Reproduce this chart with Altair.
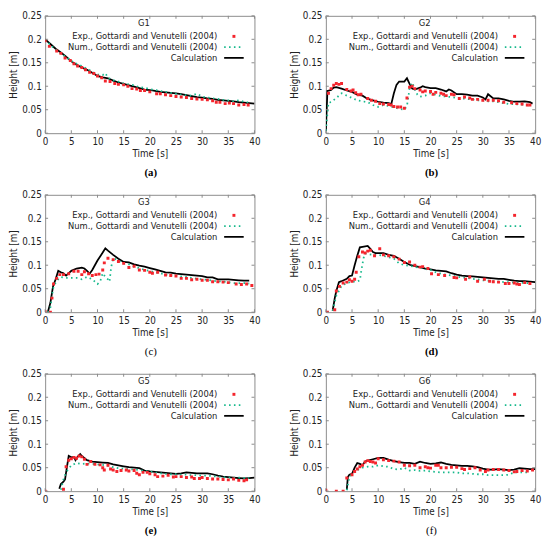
import altair as alt
import pandas as pd

# ---------------- data ----------------
G1_exp_t = [0, 0.8, 2.2, 3, 3.8, 4.8, 5.5, 6.2, 7, 7.7, 8.5, 9.3, 10, 10.8, 11.5, 12.4, 13.3, 14, 15, 15.8, 16.6, 17.5, 18.2, 19, 20, 21.3, 22, 23, 24, 25, 26, 27, 28, 29, 30, 31, 32, 32.7, 33.4, 34.4, 35.2, 36, 37, 38, 38.8]
G1_exp_h = [0.197, 0.185, 0.175, 0.170, 0.160, 0.155, 0.148, 0.143, 0.140, 0.135, 0.130, 0.127, 0.122, 0.118, 0.111, 0.110, 0.106, 0.104, 0.103, 0.100, 0.095, 0.094, 0.091, 0.091, 0.088, 0.084, 0.084, 0.082, 0.080, 0.078, 0.077, 0.076, 0.074, 0.073, 0.072, 0.071, 0.069, 0.066, 0.066, 0.063, 0.064, 0.063, 0.060, 0.061, 0.060]
G1_num_t = [0, 1, 2, 3, 4, 5, 6, 7, 8, 9, 10, 11, 11.5, 12, 13, 14, 15, 16, 17, 18, 19, 20, 22, 24, 26, 28, 29, 30, 31, 32, 33, 34, 35, 36, 37, 38, 39]
G1_num_h = [0.200, 0.188, 0.178, 0.170, 0.162, 0.154, 0.148, 0.143, 0.137, 0.131, 0.125, 0.124, 0.128, 0.118, 0.113, 0.110, 0.106, 0.104, 0.102, 0.098, 0.097, 0.094, 0.090, 0.086, 0.082, 0.080, 0.084, 0.078, 0.076, 0.074, 0.073, 0.071, 0.070, 0.068, 0.070, 0.067, 0.065]
G1_calc_t = [0, 1, 2, 3, 4, 5, 6, 7, 8, 9, 10, 11, 12, 13, 14, 15, 16, 17, 18, 19, 20, 21, 22, 23, 24, 25, 26, 27, 28, 29, 30, 31, 32, 33, 34, 35, 36, 37, 38, 39, 40]
G1_calc_h = [0.200, 0.190, 0.180, 0.172, 0.163, 0.153, 0.146, 0.140, 0.135, 0.129, 0.122, 0.119, 0.117, 0.112, 0.108, 0.105, 0.102, 0.099, 0.096, 0.093, 0.092, 0.090, 0.088, 0.087, 0.086, 0.085, 0.083, 0.081, 0.079, 0.077, 0.076, 0.074, 0.073, 0.071, 0.070, 0.069, 0.068, 0.066, 0.065, 0.064, 0.063]

G2_exp_t = [0.5, 1, 1.5, 2, 2.5, 3, 4, 4.8, 5.2, 5.7, 6.2, 6.7, 8, 8.7, 9.5, 10.3, 11, 12, 12.5, 13, 13.7, 14.3, 15, 15.5, 16, 16.5, 17, 18, 18.5, 19, 20, 20.5, 21, 22, 22.5, 23, 24, 24.5, 25.5, 26.5, 27.5, 28, 29, 30, 31, 32, 33, 34, 35.5, 36.5, 37.5, 38.5, 39]
G2_exp_h = [0.085, 0.095, 0.102, 0.106, 0.104, 0.106, 0.093, 0.090, 0.092, 0.086, 0.082, 0.083, 0.074, 0.070, 0.068, 0.063, 0.062, 0.061, 0.060, 0.057, 0.056, 0.056, 0.053, 0.075, 0.098, 0.100, 0.095, 0.092, 0.088, 0.090, 0.089, 0.083, 0.087, 0.085, 0.083, 0.080, 0.083, 0.082, 0.074, 0.077, 0.075, 0.072, 0.072, 0.070, 0.070, 0.070, 0.069, 0.066, 0.065, 0.063, 0.062, 0.060, 0.060]
G2_num_t = [0, 0.5, 1, 2, 3, 4, 5, 6, 7, 8, 9, 10, 11, 12, 13, 14, 15, 15.5, 16, 16.5, 17, 17.5, 18, 19, 20, 21, 22, 23, 24, 25, 26, 27, 28, 29, 30, 31, 32, 33, 34, 35, 36, 37, 38, 39]
G2_num_h = [0.005, 0.065, 0.066, 0.075, 0.085, 0.080, 0.075, 0.070, 0.068, 0.066, 0.060, 0.056, 0.060, 0.058, 0.055, 0.052, 0.050, 0.058, 0.095, 0.108, 0.095, 0.082, 0.078, 0.080, 0.085, 0.082, 0.079, 0.078, 0.077, 0.075, 0.074, 0.073, 0.072, 0.070, 0.070, 0.068, 0.068, 0.066, 0.064, 0.062, 0.062, 0.061, 0.060, 0.059]
G2_calc_t = [0, 0.3, 1, 1.5, 2, 3, 4, 5, 6, 7, 8, 9, 10, 11, 12, 12.5, 13, 13.5, 14, 15, 15.5, 16, 16.5, 17, 18, 18.5, 19, 20, 21, 22, 23, 23.5, 24, 25, 26, 27, 28, 29, 30, 30.5, 31, 32, 33, 34, 35, 36, 37, 38, 39, 39.5]
G2_calc_h = [0.005, 0.090, 0.092, 0.097, 0.098, 0.095, 0.091, 0.088, 0.082, 0.080, 0.073, 0.070, 0.067, 0.065, 0.064, 0.062, 0.085, 0.103, 0.110, 0.110, 0.117, 0.105, 0.095, 0.093, 0.097, 0.100, 0.098, 0.096, 0.096, 0.093, 0.089, 0.093, 0.091, 0.083, 0.083, 0.082, 0.080, 0.080, 0.076, 0.072, 0.083, 0.074, 0.074, 0.072, 0.069, 0.067, 0.067, 0.068, 0.066, 0.063]

G3_exp_t = [0, 1, 1.3, 1.6, 2.2, 2.8, 3.5, 4.5, 5.5, 6.3, 7, 7.5, 8.3, 9, 9.7, 10.3, 11, 11.3, 12, 13, 14, 15, 16, 17, 18, 19, 20, 20.5, 21.5, 23, 24, 25, 26, 27, 28, 29, 30, 31, 32, 33, 34, 35, 36.5, 37.5, 38.5, 39.5]
G3_exp_h = [0.001, 0.000, 0.030, 0.060, 0.072, 0.080, 0.080, 0.082, 0.087, 0.087, 0.080, 0.086, 0.082, 0.078, 0.080, 0.081, 0.090, 0.105, 0.115, 0.112, 0.108, 0.104, 0.095, 0.098, 0.090, 0.089, 0.085, 0.083, 0.085, 0.079, 0.078, 0.077, 0.072, 0.072, 0.069, 0.070, 0.068, 0.068, 0.065, 0.065, 0.064, 0.063, 0.060, 0.059, 0.060, 0.057]
G3_num_t = [0.5, 1, 1.5, 2, 2.5, 3, 4, 5, 6, 7, 8, 9, 9.5, 10, 10.5, 11, 11.5, 12, 12.3, 12.6, 13, 14, 15, 16, 17, 18, 19, 20, 21, 22, 23, 24, 25, 26, 27, 28, 29, 30, 31, 32, 33, 34, 35, 36, 37, 38, 39]
G3_num_h = [0.000, 0.010, 0.050, 0.063, 0.070, 0.075, 0.073, 0.073, 0.073, 0.070, 0.075, 0.070, 0.065, 0.060, 0.065, 0.083, 0.075, 0.070, 0.065, 0.095, 0.115, 0.110, 0.104, 0.102, 0.097, 0.094, 0.090, 0.088, 0.085, 0.083, 0.080, 0.079, 0.077, 0.076, 0.075, 0.073, 0.071, 0.070, 0.069, 0.067, 0.066, 0.065, 0.064, 0.062, 0.062, 0.062, 0.061]
G3_calc_t = [0.5, 1, 1.5, 2, 2.5, 3, 3.5, 4, 5, 6, 7, 7.5, 8, 8.5, 9, 10, 11, 11.5, 12, 13, 14, 15, 16, 17, 18, 19, 20, 21, 22, 23, 24, 25, 26, 27, 28, 29, 30, 31, 32, 33, 34, 35, 36, 37, 38, 39]
G3_calc_h = [0.000, 0.020, 0.055, 0.070, 0.088, 0.085, 0.083, 0.078, 0.088, 0.093, 0.095, 0.093, 0.088, 0.082, 0.090, 0.110, 0.127, 0.136, 0.131, 0.122, 0.114, 0.107, 0.106, 0.102, 0.099, 0.097, 0.094, 0.091, 0.088, 0.085, 0.084, 0.082, 0.081, 0.080, 0.079, 0.078, 0.077, 0.074, 0.074, 0.070, 0.070, 0.070, 0.069, 0.068, 0.067, 0.067]

G4_exp_t = [0.3, 1.7, 2, 2.6, 3.3, 4, 4.5, 5, 5.5, 5.8, 6.3, 7, 7.5, 8, 8.5, 9.3, 10.3, 11, 12, 13, 14, 15, 16, 17, 18, 18.5, 19.5, 20.2, 21.5, 22.7, 24.5, 25, 26.7, 27.5, 29, 30.3, 31.3, 32, 33, 34.3, 35, 36, 36.5, 37, 38, 39]
G4_exp_h = [0.000, 0.005, 0.045, 0.055, 0.062, 0.064, 0.069, 0.066, 0.070, 0.085, 0.118, 0.128, 0.126, 0.130, 0.132, 0.120, 0.135, 0.122, 0.120, 0.118, 0.113, 0.106, 0.107, 0.100, 0.096, 0.097, 0.093, 0.082, 0.080, 0.078, 0.074, 0.073, 0.070, 0.075, 0.066, 0.070, 0.066, 0.065, 0.064, 0.061, 0.061, 0.062, 0.060, 0.059, 0.063, 0.061]
G4_num_t = [1.3, 2, 3, 4, 5, 6, 6.5, 6.8, 7.2, 7.5, 8, 9, 10, 11, 12, 13, 14, 15, 16, 17, 18, 19, 20, 21, 22, 23, 24, 25, 26, 27, 28, 29, 30, 31, 32, 33, 34, 35, 36, 37, 38, 39]
G4_num_h = [0.003, 0.035, 0.056, 0.062, 0.065, 0.065, 0.068, 0.090, 0.115, 0.125, 0.124, 0.122, 0.122, 0.120, 0.117, 0.114, 0.104, 0.100, 0.099, 0.096, 0.095, 0.092, 0.090, 0.085, 0.082, 0.080, 0.078, 0.076, 0.074, 0.073, 0.071, 0.070, 0.068, 0.067, 0.066, 0.065, 0.064, 0.064, 0.063, 0.063, 0.062, 0.062]
G4_calc_t = [1.3, 1.7, 2, 2.5, 3, 4, 4.5, 5, 5.5, 6, 6.5, 7, 8, 8.5, 9, 9.5, 10, 11, 12, 13, 14, 15, 16, 17, 18, 19, 20, 21, 22, 23, 24, 25, 26, 27, 28, 29, 30, 31, 32, 33, 34, 35, 36, 37, 38, 39, 40]
G4_calc_h = [0.003, 0.030, 0.045, 0.064, 0.066, 0.071, 0.077, 0.078, 0.100, 0.120, 0.138, 0.139, 0.141, 0.135, 0.128, 0.126, 0.126, 0.126, 0.122, 0.120, 0.114, 0.107, 0.101, 0.098, 0.096, 0.093, 0.091, 0.089, 0.088, 0.087, 0.083, 0.080, 0.078, 0.077, 0.076, 0.075, 0.074, 0.073, 0.072, 0.071, 0.071, 0.069, 0.067, 0.066, 0.066, 0.065, 0.064]

G5_exp_t = [0, 3.5, 4, 4.5, 5, 5.5, 6, 6.5, 7, 7.5, 8, 8.7, 9.5, 10.5, 11, 11.3, 12, 12.5, 13, 13.7, 14.5, 15.5, 16, 17, 17.5, 18, 18.7, 19.5, 20, 21, 21.5, 22.5, 23.5, 24.5, 25, 26, 27, 28, 28.5, 29.5, 30, 31, 32, 33, 34, 35, 36, 37, 38, 38.5]
G5_exp_h = [0.000, 0.004, 0.052, 0.066, 0.069, 0.072, 0.070, 0.075, 0.073, 0.068, 0.057, 0.063, 0.057, 0.056, 0.050, 0.045, 0.055, 0.047, 0.045, 0.042, 0.044, 0.045, 0.043, 0.044, 0.038, 0.035, 0.040, 0.040, 0.037, 0.035, 0.031, 0.032, 0.034, 0.030, 0.031, 0.031, 0.029, 0.030, 0.027, 0.027, 0.029, 0.027, 0.026, 0.026, 0.025, 0.024, 0.026, 0.023, 0.022, 0.024]
G5_num_t = [3, 3.5, 4, 5, 6, 7, 8, 9, 10, 11, 12, 13, 14, 15, 16, 17, 18, 19, 20, 21, 22, 23, 24, 25, 26, 27, 28, 29, 30, 31, 32, 33, 34, 35, 36, 37, 38, 39]
G5_num_h = [0.003, 0.025, 0.040, 0.055, 0.060, 0.058, 0.059, 0.058, 0.057, 0.056, 0.054, 0.051, 0.049, 0.048, 0.047, 0.046, 0.045, 0.043, 0.042, 0.040, 0.038, 0.037, 0.036, 0.036, 0.035, 0.035, 0.034, 0.034, 0.033, 0.033, 0.032, 0.031, 0.030, 0.029, 0.029, 0.029, 0.028, 0.028]
G5_calc_t = [2.7, 3, 3.5, 3.8, 4, 4.5, 5, 5.5, 5.8, 6.2, 6.7, 7, 8, 9, 10, 11, 12, 13, 14, 15, 16, 17, 18, 19, 20, 21, 22, 23, 24, 25, 26, 27, 28, 29, 30, 31, 32, 33, 34, 35, 36, 37, 38, 39, 40]
G5_calc_h = [0.005, 0.015, 0.020, 0.025, 0.040, 0.075, 0.072, 0.073, 0.066, 0.073, 0.079, 0.075, 0.066, 0.063, 0.062, 0.061, 0.060, 0.057, 0.055, 0.053, 0.051, 0.050, 0.049, 0.044, 0.042, 0.041, 0.040, 0.039, 0.038, 0.037, 0.038, 0.040, 0.039, 0.038, 0.038, 0.038, 0.036, 0.033, 0.031, 0.030, 0.029, 0.028, 0.027, 0.028, 0.029]

G6_exp_t = [0, 2, 3.3, 4, 5, 5.5, 6, 6.5, 7, 7.5, 8, 8.5, 9, 9.5, 10, 11, 12, 13, 14, 15, 16, 17, 18, 19, 19.5, 20, 21, 21.5, 22, 23, 24, 25, 26, 26.5, 27.5, 28.5, 29.5, 30.5, 31, 32, 33, 34, 35, 36, 36.5, 37.5, 38.5, 39.5]
G6_exp_h = [0.002, 0.000, 0.000, 0.028, 0.035, 0.042, 0.047, 0.052, 0.055, 0.062, 0.065, 0.063, 0.062, 0.060, 0.069, 0.067, 0.065, 0.064, 0.062, 0.055, 0.054, 0.055, 0.050, 0.052, 0.050, 0.049, 0.055, 0.055, 0.050, 0.050, 0.051, 0.051, 0.048, 0.046, 0.048, 0.050, 0.045, 0.042, 0.045, 0.046, 0.046, 0.045, 0.044, 0.041, 0.042, 0.044, 0.043, 0.045]
G6_num_t = [4, 4.5, 5, 6, 7, 8, 9, 10, 11, 12, 13, 14, 15, 16, 17, 18, 19, 20, 21, 22, 23, 24, 25, 26, 27, 28, 29, 30, 31, 32, 33, 34, 35, 36, 37, 38, 39]
G6_num_h = [0.002, 0.030, 0.037, 0.045, 0.050, 0.052, 0.052, 0.055, 0.053, 0.052, 0.047, 0.046, 0.050, 0.044, 0.045, 0.043, 0.044, 0.042, 0.041, 0.040, 0.040, 0.040, 0.040, 0.038, 0.038, 0.037, 0.036, 0.036, 0.034, 0.034, 0.034, 0.034, 0.035, 0.040, 0.040, 0.040, 0.040]
G6_calc_t = [4, 4.2, 4.5, 5, 5.5, 6, 6.5, 7, 7.5, 8, 9, 10, 11, 12, 13, 14, 15, 16, 17, 18, 19, 20, 21, 22, 23, 24, 25, 26, 27, 28, 29, 30, 31, 32, 33, 34, 35, 36, 37, 38, 39, 40]
G6_calc_h = [0.003, 0.030, 0.035, 0.037, 0.050, 0.060, 0.058, 0.055, 0.063, 0.065, 0.068, 0.071, 0.071, 0.067, 0.064, 0.062, 0.060, 0.060, 0.058, 0.063, 0.060, 0.058, 0.059, 0.061, 0.058, 0.056, 0.055, 0.054, 0.054, 0.053, 0.051, 0.048, 0.046, 0.046, 0.047, 0.046, 0.045, 0.046, 0.049, 0.048, 0.047, 0.047]

x_ticks = [0, 5, 10, 15, 20, 25, 30, 35, 40]
y_ticks = [0, 0.05, 0.1, 0.15, 0.2, 0.25]
legend_labels = ["Exp., Gottardi and Venutelli (2004)",
                 "Num., Gottardi and Venutelli (2004)",
                 "Calculation"]

# ---------------- style ----------------
W, H = 214, 120
FONT = "DejaVu Sans Condensed, Liberation Sans, sans-serif"
RED = "#f4252d"
TEAL = "#17b98c"
FRAME = "#8a8a8a"
TXT = "#222222"


def one(**kw):
    return pd.DataFrame([kw])


XS = alt.Scale(domain=[0, 40], nice=False, zero=False)
YS = alt.Scale(domain=[0, 0.25], nice=False)
XAX = alt.Axis(values=x_ticks, title="Time [s]", labelPadding=4, titlePadding=2,
               labelOverlap=False, labelFlush=False)
YAX = alt.Axis(values=y_ticks, title="Height [m]", format="~g", labelPadding=4,
               titlePadding=3, labelOverlap=False, labelFlush=False)


def X():
    return alt.X("t:Q", scale=XS, axis=XAX)


def Y():
    return alt.Y("h:Q", scale=YS, axis=YAX)


def panel(name, caption, bold, et, eh, nt, nh, ct, ch):
    calc = alt.Chart(pd.DataFrame({"t": ct, "h": ch})).mark_line(
        color="black", strokeWidth=1.8, clip=True
    ).encode(x=X(), y=Y())

    num = alt.Chart(pd.DataFrame({"t": nt, "h": nh})).mark_line(
        color=TEAL, strokeWidth=1.8, strokeDash=[1.6, 3.4], clip=True
    ).encode(x=X(), y=Y())

    exp = alt.Chart(pd.DataFrame({"t": et, "h": eh})).mark_square(
        color=RED, size=9, opacity=1, filled=True, clip=True
    ).encode(x=X(), y=Y())

    xtk = pd.DataFrame({"t": x_ticks})
    ytk = pd.DataFrame({"h": y_ticks})
    tb = alt.Chart(xtk).mark_rule(color=FRAME, strokeWidth=1).encode(
        x=X(), y=alt.value(H), y2=alt.value(H - 3))
    tt = alt.Chart(xtk).mark_rule(color=FRAME, strokeWidth=1).encode(
        x=X(), y=alt.value(0), y2=alt.value(3))
    tl = alt.Chart(ytk).mark_rule(color=FRAME, strokeWidth=1).encode(
        y=Y(), x=alt.value(0), x2=alt.value(3))
    tr = alt.Chart(ytk).mark_rule(color=FRAME, strokeWidth=1).encode(
        y=Y(), x=alt.value(W - 3), x2=alt.value(W))

    # key (gnuplot style: label right-aligned, sample on the right)
    d1 = one(a=1)
    ktitle = alt.Chart(d1).mark_text(font=FONT, fontSize=9.5, color=TXT).encode(
        x=alt.value(101), y=alt.value(7), text=alt.value(name))
    ktxt = []
    for i, lab in enumerate(legend_labels):
        ktxt.append(alt.Chart(d1).mark_text(
            font=FONT, fontSize=9.5, color=TXT, align="right", baseline="middle"
        ).encode(x=alt.value(176), y=alt.value(21 + 11 * i), text=alt.value(lab)))
    kexp = alt.Chart(d1).mark_square(color=RED, size=9, opacity=1).encode(
        x=alt.value(193), y=alt.value(21))
    knum = alt.Chart(d1).mark_rule(color=TEAL, strokeWidth=1.8, strokeDash=[1.6, 3.4]).encode(
        x=alt.value(183), x2=alt.value(203), y=alt.value(32))
    kcalc = alt.Chart(d1).mark_rule(color="black", strokeWidth=1.8).encode(
        x=alt.value(183), x2=alt.value(203), y=alt.value(43))

    cap = alt.Chart(d1).mark_text(
        font="Liberation Serif, DejaVu Serif, serif", fontSize=11,
        fontWeight="bold" if bold else "normal", color="black"
    ).encode(x=alt.value(W / 2 + 1), y=alt.value(H + 41), text=alt.value(caption))

    return alt.layer(calc, num, exp, tb, tt, tl, tr, ktitle, *ktxt, kexp, knum, kcalc, cap).properties(
        width=W, height=H)


p1 = panel("G1", "(a)", True, G1_exp_t, G1_exp_h, G1_num_t, G1_num_h, G1_calc_t, G1_calc_h)
p2 = panel("G2", "(b)", True, G2_exp_t, G2_exp_h, G2_num_t, G2_num_h, G2_calc_t, G2_calc_h)
p3 = panel("G3", "(c)", False, G3_exp_t, G3_exp_h, G3_num_t, G3_num_h, G3_calc_t, G3_calc_h)
p4 = panel("G4", "(d)", True, G4_exp_t, G4_exp_h, G4_num_t, G4_num_h, G4_calc_t, G4_calc_h)
p5 = panel("G5", "(e)", True, G5_exp_t, G5_exp_h, G5_num_t, G5_num_h, G5_calc_t, G5_calc_h)
p6 = panel("G6", "(f)", False, G6_exp_t, G6_exp_h, G6_num_t, G6_num_h, G6_calc_t, G6_calc_h)

row1 = alt.hconcat(p1, p2, spacing=28)
row2 = alt.hconcat(p3, p4, spacing=28)
row3 = alt.hconcat(p5, p6, spacing=28)

chart = alt.vconcat(row1, row2, row3, spacing=10).properties(
    padding={"left": 0, "top": -4, "right": 0, "bottom": 0}, background="white"
).configure_view(
    stroke=FRAME, strokeWidth=1
).configure_axis(
    labelFont=FONT, labelFontSize=10, labelColor=TXT,
    titleFont=FONT, titleFontSize=10, titleFontWeight="normal", titleColor=TXT,
    ticks=False, domain=False, grid=False
)

chart.save("out.html", embed_options={"renderer": "svg", "actions": False})
